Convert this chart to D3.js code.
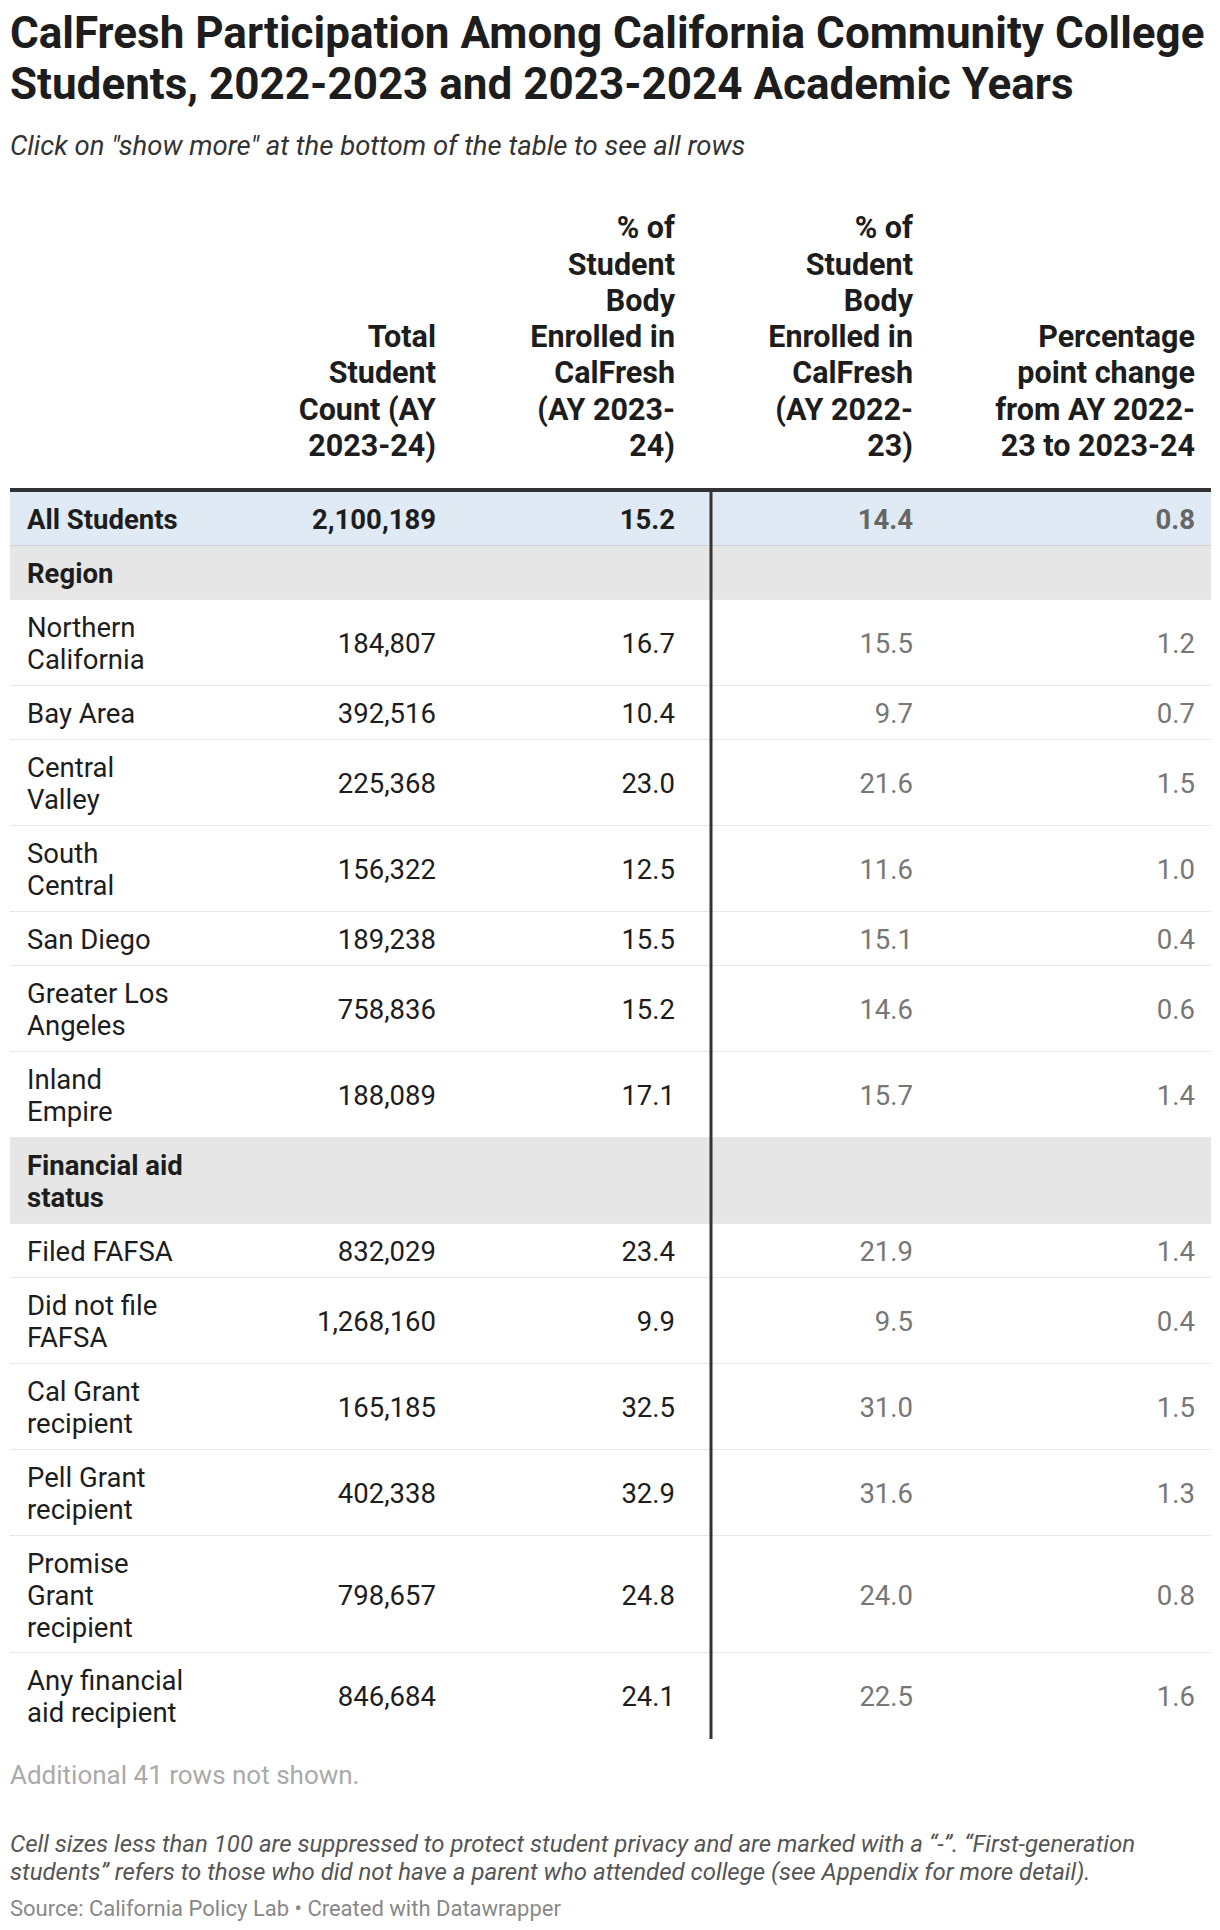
<!DOCTYPE html>
<html><head><meta charset="utf-8">
<script src="https://cdn.jsdelivr.net/npm/d3@7"></script>
<style>body{margin:0;background:#fff;font-family:Roboto,sans-serif}</style>
</head><body><svg id="c" width="1220" height="1930"></svg>
<script>
const labels=["All Students","Region","Northern\nCalifornia","Bay Area","Central\nValley","South\nCentral","San Diego","Greater Los\nAngeles","Inland\nEmpire","Financial aid\nstatus","Filed FAFSA","Did not file\nFAFSA","Cal Grant\nrecipient","Pell Grant\nrecipient","Promise\nGrant\nrecipient","Any financial\naid recipient"];
const rowTypes=["total","group","row","row","row","row","row","row","row","group","row","row","row","row","row","row"];
const counts=["2,100,189","","184,807","392,516","225,368","156,322","189,238","758,836","188,089","","832,029","1,268,160","165,185","402,338","798,657","846,684"];
const pct2324=["15.2","","16.7","10.4","23.0","12.5","15.5","15.2","17.1","","23.4","9.9","32.5","32.9","24.8","24.1"];
const pct2223=["14.4","","15.5","9.7","21.6","11.6","15.1","14.6","15.7","","21.9","9.5","31.0","31.6","24.0","22.5"];
const change=["0.8","","1.2","0.7","1.5","1.0","0.4","0.6","1.4","","1.4","0.4","1.5","1.3","0.8","1.6"];
const headers=[["Total","Student","Count (AY","2023-24)"],["% of","Student","Body","Enrolled in","CalFresh","(AY 2023-","24)"],["% of","Student","Body","Enrolled in","CalFresh","(AY 2022-","23)"],["Percentage","point change","from AY 2022-","23 to 2023-24"]];

const svg=d3.select("#c");
const L=10,R=1211,lineH=32;
svg.append("text").attr("x",L).attr("y",48).attr("font-size",44).attr("font-weight",700).attr("fill","#1d1d1d").text("CalFresh Participation Among California Community College");
svg.append("text").attr("x",L).attr("y",99).attr("font-size",44).attr("font-weight",700).attr("fill","#1d1d1d").text("Students, 2022-2023 and 2023-2024 Academic Years");
svg.append("text").attr("x",L).attr("y",155).attr("font-size",27.5).attr("font-style","italic").attr("fill","#333").text('Click on "show more" at the bottom of the table to see all rows');

const colX=d3.scaleOrdinal().domain([0,1,2,3]).range([436,675,913,1195]);
const hdrBottom=456;
headers.forEach((h,i)=>{
  h.forEach((t,j)=>svg.append("text").attr("x",colX(i)).attr("y",hdrBottom-(h.length-1-j)*36.3).attr("text-anchor","end").attr("font-size",30.5).attr("font-weight",700).attr("fill","#1d1d1d").text(t));
});

const nLines=labels.map(l=>l.split("\n").length);
const heights=nLines.map(n=>n===1?54:n===2?86:117);
const top0=492;
const ys=[top0,...Array.from(d3.cumsum(heights),v=>v+top0)];
const g=svg.append("g");
labels.forEach((lab,i)=>{
  const y0=ys[i],h=heights[i],cy=y0+h/2,t=rowTypes[i];
  const bg=t==="total"?"#dfeaf5":t==="group"?"#e6e6e6":"#fff";
  g.append("rect").attr("x",L).attr("y",y0).attr("width",R-L).attr("height",h).attr("fill",bg);
  if(i<labels.length-1) g.append("line").attr("x1",L).attr("x2",R).attr("y1",y0+h).attr("y2",y0+h).attr("stroke",t==="total"?"#d0d0d0":"#e8e8e8").attr("stroke-width",2);
  const bold=t!=="row";
  const lines=lab.split("\n");
  lines.forEach((ln,j)=>g.append("text").attr("x",27).attr("y",cy+(j-(lines.length-1)/2)*lineH+10).attr("font-size",27.5).attr("font-weight",bold?700:400).attr("fill","#1d1d1d").text(ln));
  [counts[i],pct2324[i],pct2223[i],change[i]].forEach((v,k)=>{
    g.append("text").attr("x",colX(k)).attr("y",cy+10).attr("text-anchor","end").attr("font-size",27.5).attr("font-weight",t==="total"?700:400).attr("fill",k<2?"#1d1d1d":(t==="total"?"#666":"#777")).text(v);
  });
});
svg.append("line").attr("x1",L).attr("x2",R).attr("y1",490).attr("y2",490).attr("stroke","#333").attr("stroke-width",4);
svg.append("line").attr("x1",711).attr("x2",711).attr("y1",492).attr("y2",ys[ys.length-1]).attr("stroke","#333").attr("stroke-width",3);

svg.append("text").attr("x",L).attr("y",1784).attr("font-size",26).attr("fill","#aaa").text("Additional 41 rows not shown.");
svg.append("text").attr("x",L).attr("y",1852).attr("font-size",24).attr("font-style","italic").attr("fill","#555").text("Cell sizes less than 100 are suppressed to protect student privacy and are marked with a “-”. “First-generation");
svg.append("text").attr("x",L).attr("y",1880).attr("font-size",24).attr("font-style","italic").attr("fill","#555").text("students” refers to those who did not have a parent who attended college (see Appendix for more detail).");
svg.append("text").attr("x",L).attr("y",1916).attr("font-size",22).attr("fill","#888").text("Source: California Policy Lab • Created with Datawrapper");
</script></body></html>
